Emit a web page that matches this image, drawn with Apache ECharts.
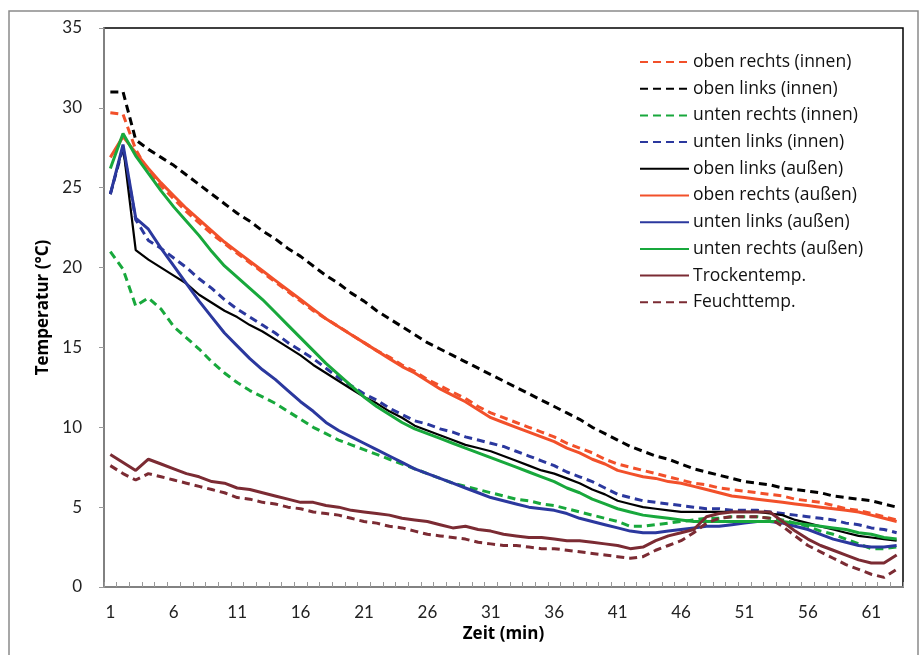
<!DOCTYPE html>
<html>
<head>
<meta charset="utf-8">
<title>Temperaturverlauf</title>
<script src="https://cdn.jsdelivr.net/npm/echarts@6/dist/echarts.min.js"></script>
<style>
	html, body {margin:0; padding:0; background:#fff;}
	#chart {width:924px; height:655px;}
</style>
</head>
<body>
<div id="chart"></div>
<script>
// Zeit in Minuten (1..63)
var zeit = [];
for (var m = 1; m <= 63; m++) zeit.push(String(m));

var obenRechtsInnen = [29.7,29.6,27.4,26.0,25.1,24.3,23.5,22.8,22.1,21.5,20.9,20.3,19.7,19.1,18.5,17.9,17.3,16.8,16.3,15.8,
	15.3,14.8,14.4,13.9,13.5,13.0,12.6,12.2,11.8,11.3,10.9,10.6,10.3,10.0,9.7,9.4,9.0,8.7,8.4,8.0,
	7.7,7.5,7.3,7.1,6.9,6.7,6.5,6.4,6.2,6.1,6.0,5.9,5.8,5.7,5.5,5.4,5.3,5.1,4.9,4.8,4.6,4.4,4.2];
var obenLinksInnen = [31.0,31.0,28.0,27.4,26.9,26.4,25.8,25.2,24.6,24.0,23.4,22.9,22.3,21.8,21.2,20.7,20.1,19.5,19.0,18.4,
	17.9,17.3,16.8,16.3,15.8,15.3,14.9,14.5,14.1,13.7,13.3,12.9,12.5,12.1,11.7,11.3,10.9,10.5,10.0,9.6,
	9.2,8.8,8.5,8.2,8.0,7.7,7.4,7.2,7.0,6.8,6.6,6.5,6.4,6.2,6.1,6.0,5.9,5.7,5.6,5.5,5.4,5.2,5.0];
var untenRechtsInnen = [21.0,19.9,17.6,18.1,17.4,16.3,15.6,14.9,14.1,13.4,12.8,12.3,11.9,11.5,11.0,10.5,10.0,9.6,9.2,8.9,
	8.6,8.3,8.0,7.7,7.4,7.1,6.8,6.5,6.3,6.1,5.9,5.7,5.5,5.4,5.2,5.1,4.9,4.7,4.5,4.3,
	4.1,3.8,3.8,3.9,4.0,4.1,4.2,4.3,4.3,4.4,4.4,4.4,4.3,4.2,4.0,3.8,3.5,3.3,3.0,2.7,2.4,2.4,2.5];
var untenLinksInnen = [24.6,27.5,23.0,21.7,21.2,20.6,20.0,19.3,18.7,18.0,17.4,16.9,16.4,15.9,15.3,14.8,14.3,13.7,13.1,12.6,
	12.1,11.7,11.2,10.8,10.4,10.2,9.9,9.7,9.4,9.2,9.0,8.8,8.5,8.2,7.9,7.6,7.2,6.9,6.6,6.2,
	5.8,5.6,5.4,5.3,5.2,5.1,5.0,4.9,4.9,4.8,4.8,4.8,4.7,4.6,4.5,4.4,4.3,4.2,4.0,3.9,3.7,3.6,3.4];
var obenLinksAussen = [24.6,27.6,21.1,20.5,20.0,19.5,19.0,18.3,17.8,17.3,16.9,16.4,16.0,15.5,15.0,14.5,13.9,13.4,12.9,12.4,
	11.9,11.5,11.0,10.6,10.1,9.8,9.5,9.2,8.9,8.7,8.5,8.2,7.9,7.6,7.3,7.1,6.8,6.5,6.1,5.8,
	5.4,5.2,5.0,4.9,4.8,4.7,4.7,4.7,4.7,4.7,4.7,4.7,4.6,4.5,4.2,4.0,3.8,3.6,3.4,3.2,3.1,3.0,2.9];
var obenRechtsAussen = [26.9,28.2,27.2,26.2,25.3,24.5,23.7,23.0,22.3,21.6,21.0,20.4,19.8,19.2,18.6,18.0,17.4,16.8,16.3,15.8,
	15.3,14.8,14.3,13.8,13.4,12.9,12.4,12.0,11.6,11.1,10.6,10.3,10.0,9.7,9.4,9.1,8.7,8.4,8.0,7.7,
	7.3,7.1,6.9,6.8,6.6,6.5,6.3,6.1,5.9,5.7,5.6,5.5,5.4,5.3,5.2,5.1,5.0,4.9,4.8,4.7,4.5,4.3,4.1];
var untenLinksAussen = [24.6,27.7,23.1,22.4,21.2,20.1,19.0,17.9,16.9,15.9,15.1,14.3,13.6,13.0,12.3,11.6,11.0,10.3,9.8,9.4,
	9.0,8.6,8.2,7.8,7.4,7.1,6.8,6.5,6.2,5.9,5.6,5.4,5.2,5.0,4.9,4.8,4.6,4.3,4.1,3.9,
	3.7,3.5,3.4,3.4,3.5,3.6,3.7,3.8,3.8,3.9,4.0,4.1,4.1,4.0,3.8,3.6,3.3,3.0,2.8,2.6,2.5,2.5,2.6];
var untenRechtsAussen = [26.2,28.4,27.0,25.9,24.8,23.8,22.9,22.0,21.0,20.1,19.4,18.7,18.0,17.2,16.4,15.6,14.8,14.0,13.3,12.6,
	11.9,11.3,10.8,10.3,9.9,9.6,9.3,9.0,8.7,8.4,8.1,7.8,7.5,7.2,6.9,6.6,6.2,5.9,5.5,5.2,
	4.9,4.7,4.5,4.4,4.3,4.2,4.1,4.1,4.1,4.1,4.1,4.1,4.1,4.1,4.0,3.9,3.8,3.7,3.6,3.4,3.3,3.1,3.0];
var trockenTemp = [8.3,7.8,7.3,8.0,7.7,7.4,7.1,6.9,6.6,6.5,6.2,6.1,5.9,5.7,5.5,5.3,5.3,5.1,5.0,4.8,
	4.7,4.6,4.5,4.3,4.2,4.1,3.9,3.7,3.8,3.6,3.5,3.3,3.2,3.1,3.1,3.0,2.9,2.9,2.8,2.7,
	2.6,2.4,2.5,2.9,3.2,3.4,3.6,4.4,4.6,4.7,4.7,4.7,4.7,4.1,3.5,3.0,2.6,2.3,2.0,1.7,1.5,1.5,2.0];
var feuchtTemp = [7.6,7.1,6.7,7.1,6.9,6.7,6.5,6.3,6.1,5.9,5.6,5.5,5.3,5.2,5.0,4.9,4.7,4.6,4.5,4.3,
	4.1,4.0,3.8,3.7,3.5,3.3,3.2,3.1,3.0,2.8,2.7,2.6,2.6,2.5,2.4,2.4,2.3,2.2,2.1,2.0,
	1.9,1.8,1.9,2.3,2.6,2.9,3.4,4.0,4.3,4.4,4.4,4.4,4.3,3.8,3.2,2.6,2.2,1.8,1.4,1.1,0.8,0.6,1.1];

var yTicks = [0, 5, 10, 15, 20, 25, 30, 35];

var ROT = '#F2502A', SCHWARZ = '#000000', GRUEN = '#18A83C', BLAU = '#2B389E', BRAUN = '#7B2B33';
var dash = [8, 5];

function reihe(name, data, color, dashed, width) {
	return {
		name: name,
		type: 'line',
		data: data,
		symbol: 'none',
		smooth: false,
		color: color,
		lineStyle: {color: color, width: width || 3, type: dashed ? dash : 'solid'}
	};
}

(function(){
	var opt = {
		animation: false,
		backgroundColor: '#fff',
		textStyle: {fontFamily: 'Lato'},
		graphic: [{
			type: 'rect',
			shape: {x: 9, y: 11, width: 909, height: 660},
			style: {fill: 'none', stroke: '#8a8a8a', lineWidth: 1.5},
			silent: true
		}],
		grid: {
			left: 104, top: 28, right: 21, bottom: 68,
			show: true, borderColor: '#000', borderWidth: 1.5
		},
		legend: {
			orient: 'vertical',
			left: 639, top: 53,
			padding: 0,
			itemWidth: 49, itemHeight: 14, itemGap: 8.7,
			itemStyle: {opacity: 0},
			textStyle: {fontSize: 17.5, color: '#111', fontFamily: 'Open Sans', padding: [0, 0, 0, -1]},
			data: ['oben rechts (innen)','oben links (innen)','unten rechts (innen)','unten links (innen)',
				'oben links (außen)','oben rechts (außen)','unten links (außen)','unten rechts (außen)',
				'Trockentemp.','Feuchttemp.']
		},
		xAxis: {
			type: 'category',
			data: zeit,
			boundaryGap: true,
			name: 'Zeit (min)',
			nameLocation: 'middle',
			nameGap: 34,
			nameTextStyle: {fontSize: 17, fontWeight: 'bold', color: '#000', fontFamily: 'Open Sans'},
			axisLine: {lineStyle: {color: '#999', width: 1.5}},
			axisTick: {show: true, inside: true, length: 5, interval: 0, lineStyle: {color: '#999'}},
			axisLabel: {interval: 4, fontSize: 17, color: '#222', margin: 17},
			splitLine: {show: false}
		},
		yAxis: {
			type: 'value',
			min: 0, max: 35, interval: 5,
			name: 'Temperatur (°C)',
			nameLocation: 'middle',
			nameGap: 50,
			nameTextStyle: {fontSize: 17, fontWeight: 'bold', color: '#000', fontFamily: 'Open Sans'},
			axisLine: {show: true, lineStyle: {color: '#999', width: 1.5}},
			axisTick: {show: true, inside: false, length: 5, lineStyle: {color: '#999'}},
			axisLabel: {fontSize: 17, color: '#222', margin: 22,
				formatter: function(v){ return yTicks.indexOf(v) >= 0 ? String(v) : ''; }},
			splitLine: {show: false}
		},
		series: [
			reihe('oben rechts (innen)', obenRechtsInnen, ROT, true),
			reihe('oben links (innen)', obenLinksInnen, SCHWARZ, true),
			reihe('unten rechts (innen)', untenRechtsInnen, GRUEN, true),
			reihe('unten links (innen)', untenLinksInnen, BLAU, true),
			reihe('oben links (außen)', obenLinksAussen, SCHWARZ, false, 2.2),
			reihe('oben rechts (außen)', obenRechtsAussen, ROT, false),
			reihe('unten links (außen)', untenLinksAussen, BLAU, false),
			reihe('unten rechts (außen)', untenRechtsAussen, GRUEN, false),
			reihe('Trockentemp.', trockenTemp, BRAUN, false),
			reihe('Feuchttemp.', feuchtTemp, BRAUN, true)
		]
	};
	var chart = echarts.init(document.getElementById('chart'));
	chart.setOption(opt);
})();
</script>
</body>
</html>
